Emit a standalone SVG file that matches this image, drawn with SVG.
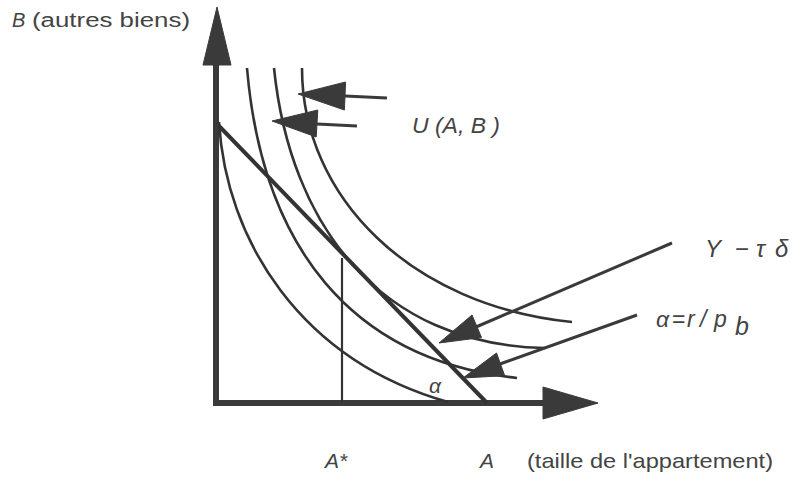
<svg xmlns="http://www.w3.org/2000/svg" width="800" height="477" viewBox="0 0 800 477">
<style>
.axis{stroke:#3a3a3a;stroke-width:6;fill:none}
.head{fill:#3a3a3a;stroke:#3a3a3a;stroke-width:1;stroke-linejoin:round}
.curve{stroke:#333;stroke-width:2.6;fill:none}
.budget{stroke:#333;stroke-width:4;fill:none}
.lead{stroke:#3a3a3a;stroke-width:3;fill:none}
.thin{stroke:#333;stroke-width:2.2;fill:none}
text{font-family:"Liberation Sans",Arial,sans-serif;fill:#444}
.it{font-style:italic}
</style>
<rect width="800" height="477" fill="#ffffff"/>
<g id="axes">
<line class="axis" x1="216" y1="406" x2="216" y2="60"/>
<polygon class="head" points="217,7 203,65 231,65"/>
<line class="axis" x1="213" y1="403" x2="546" y2="403"/>
<polygon class="head" points="598,403 543,387 543,419"/>
</g>
<g id="indifference-curves">
<path id="c1" class="curve" d="M219,122 C226,240 300,360 448,402"/>
<path id="c2" class="curve" d="M247,68 C262,245 350,360 517,378"/>
<path id="c3" class="curve" d="M274,68 C290,225 380,345 545,348"/>
<path id="c4" class="curve" d="M302,68 C302,198 412,306 572,322"/>
</g>
<g id="budget-line">
<line class="budget" x1="219" y1="126" x2="487" y2="403"/>
</g>
<g id="a-star-line">
<line class="thin" x1="342" y1="258" x2="342" y2="403"/>
</g>
<g id="connectors">
<line class="lead" x1="345" y1="96" x2="387" y2="98"/>
<polygon class="head" points="298,94 345.6,82 344.4,110"/>
<line class="lead" x1="317" y1="124" x2="357" y2="126"/>
<polygon class="head" points="272,121 317.8,110 316.2,137"/>
<line class="lead" x1="476" y1="327" x2="672" y2="243"/>
<polygon class="head" points="439,343 472,315 481.5,337.5"/>
<line class="lead" x1="500" y1="364" x2="637" y2="315"/>
<polygon class="head" points="463,378 496.5,353 504.7,375.7"/>
</g>
<g id="label-B">
<text class="it" x="12" y="27" font-size="20">B</text>
<text x="32" y="27" font-size="20" textLength="158" lengthAdjust="spacingAndGlyphs">(autres biens)</text>
</g>
<g id="label-U">
<text class="it" x="412" y="133" font-size="22" textLength="88" lengthAdjust="spacingAndGlyphs">U (A, B )</text>
</g>
<g id="label-Y">
<text font-size="24"><tspan class="it" x="705" y="257">Y</tspan><tspan x="735" y="257">−</tspan><tspan class="it" x="756" y="257">τ</tspan><tspan class="it" x="775" y="257">δ</tspan></text>
</g>
<g id="label-alpha-ratio">
<text font-size="23"><tspan class="it" x="656" y="327">α</tspan><tspan x="672" y="327">=</tspan><tspan class="it" x="687" y="327">r</tspan><tspan class="it" x="700" y="327">/</tspan><tspan class="it" x="714" y="327">p</tspan><tspan class="it" x="735" y="335" font-size="25">b</tspan></text>
</g>
<g id="label-alpha">
<text class="it" x="429" y="393" font-size="21">α</text>
</g>
<g id="label-Astar">
<text class="it" x="325" y="468" font-size="21">A*</text>
</g>
<g id="label-A">
<text class="it" x="480" y="468" font-size="21">A</text>
<text x="527" y="468" font-size="21" textLength="246" lengthAdjust="spacingAndGlyphs">(taille de l'appartement)</text>
</g>
</svg>
